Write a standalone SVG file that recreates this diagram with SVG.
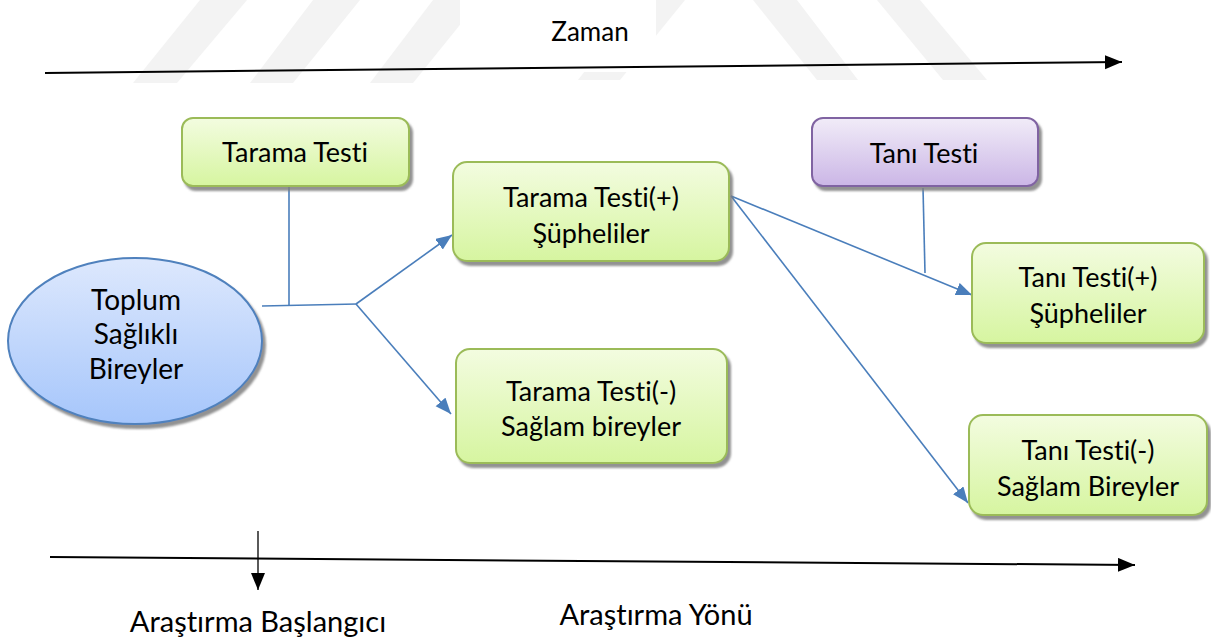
<svg xmlns="http://www.w3.org/2000/svg" width="1211" height="637" viewBox="0 0 1211 637">
  <defs>
    <linearGradient id="gGreen" x1="0" y1="0" x2="0" y2="1">
      <stop offset="0" stop-color="#f3fce0"/>
      <stop offset="1" stop-color="#d6f5a0"/>
    </linearGradient>
    <linearGradient id="gPurple" x1="0" y1="0" x2="0" y2="1">
      <stop offset="0" stop-color="#f1ecf8"/>
      <stop offset="1" stop-color="#cbb6e6"/>
    </linearGradient>
    <linearGradient id="gBlue" x1="0" y1="0" x2="0" y2="1">
      <stop offset="0" stop-color="#dde8fd"/>
      <stop offset="1" stop-color="#a6c6fb"/>
    </linearGradient>
    <filter id="shadow" x="-10%" y="-10%" width="130%" height="140%">
      <feDropShadow dx="3" dy="4" stdDeviation="1.2" flood-color="#7f7f7f" flood-opacity="0.85"/>
    </filter>
    <marker id="arrBlue" markerUnits="userSpaceOnUse" markerWidth="17" markerHeight="14" refX="16" refY="6.5" orient="auto">
      <path d="M0,0 L16,6.5 L0,13 Z" fill="#4a7ebb"/>
    </marker>
    <marker id="arrBlack" markerUnits="userSpaceOnUse" markerWidth="18" markerHeight="16" refX="17" refY="7" orient="auto">
      <path d="M0,0 L17,7 L0,14 Z" fill="#000"/>
    </marker>
  </defs>
  <style>
    .lbl { font-family: Lato, "Liberation Sans", sans-serif; font-size: 27px; fill: #000; text-anchor: middle; font-variant-ligatures: none; }
    .big { font-size: 28px; }
    .axis { font-size: 26px; }
    .axisb { font-size: 29px; }
    .green { fill: url(#gGreen); stroke: #9bbb59; stroke-width: 2; filter: url(#shadow); }
    .purple { fill: url(#gPurple); stroke: #8064a2; stroke-width: 2; filter: url(#shadow); }
    .link { fill: none; stroke: #4a7ebb; stroke-width: 1.6; }
    .axisline { fill: none; stroke: #000; stroke-width: 2; }
    .wm { fill: #f3f3f3; }
  </style>

  <rect width="1211" height="637" fill="#fff"/>

  <!-- faint background watermark bands -->
  <g id="watermark">
    <polygon class="wm" points="200,0 247,0 177,83 133,83"/>
    <polygon class="wm" points="313,0 360,0 293,83 250,83"/>
    <polygon class="wm" points="433,0 480,0 413,83 370,83"/>
    <polygon class="wm" points="640,0 685,0 620,80 578,80"/>
    <polygon class="wm" points="753,0 797,0 858,80 817,80"/>
    <polygon class="wm" points="877,0 920,0 987,80 943,80"/>
    <rect x="460" y="0" width="196" height="72" fill="#fff"/>
  </g>

  <!-- time axes -->
  <g id="axes">
    <line class="axisline" x1="45" y1="73" x2="1122" y2="62" marker-end="url(#arrBlack)"/>
    <text class="lbl axis" x="590" y="41">Zaman</text>
    <line class="axisline" x1="50" y1="557" x2="1135" y2="565" marker-end="url(#arrBlack)"/>
    <line fill="none" stroke="#000" stroke-width="1.3" x1="258" y1="531" x2="258" y2="590" marker-end="url(#arrBlack)"/>
    <text class="lbl axisb" x="258" y="632">Araştırma Başlangıcı</text>
    <text class="lbl axisb" x="656" y="625">Araştırma Yönü</text>
  </g>

  <!-- connectors -->
  <g id="connectors">
    <line class="link" x1="289" y1="187" x2="289" y2="306"/>
    <line class="link" x1="262" y1="306" x2="357" y2="304"/>
    <line class="link" x1="356" y1="304" x2="452" y2="235" marker-end="url(#arrBlue)"/>
    <line class="link" x1="356" y1="304" x2="451" y2="414" marker-end="url(#arrBlue)"/>
    <line class="link" x1="731" y1="196" x2="972" y2="295" marker-end="url(#arrBlue)"/>
    <line class="link" x1="731" y1="196" x2="968" y2="503" marker-end="url(#arrBlue)"/>
    <line class="link" x1="923" y1="188" x2="925" y2="273"/>
  </g>

  <!-- nodes -->
  <g id="node-toplum">
    <ellipse cx="135" cy="341" rx="127" ry="83" fill="url(#gBlue)" stroke="#4f81bd" stroke-width="2" filter="url(#shadow)"/>
    <text class="lbl big" x="136" y="310">Toplum</text>
    <text class="lbl big" x="136" y="344">Sağlıklı</text>
    <text class="lbl big" x="136" y="379">Bireyler</text>
  </g>

  <g id="node-tarama-testi">
    <rect class="green" x="182" y="118" width="227" height="68" rx="11"/>
    <text class="lbl" x="295" y="162">Tarama Testi</text>
  </g>

  <g id="node-tarama-pos">
    <rect class="green" x="453" y="162" width="276" height="99" rx="14"/>
    <text class="lbl" x="591" y="207">Tarama Testi(+)</text>
    <text class="lbl" x="591" y="243">Şüpheliler</text>
  </g>

  <g id="node-tarama-neg">
    <rect class="green" x="456" y="349" width="271" height="114" rx="14"/>
    <text class="lbl" x="591" y="401">Tarama Testi(-)</text>
    <text class="lbl" x="591" y="436">Sağlam bireyler</text>
  </g>

  <g id="node-tani-testi">
    <rect class="purple" x="812" y="118" width="226" height="68" rx="11"/>
    <text class="lbl" x="924" y="163">Tanı Testi</text>
  </g>

  <g id="node-tani-pos">
    <rect class="green" x="972" y="243" width="232" height="100" rx="14"/>
    <text class="lbl" x="1088" y="287">Tanı Testi(+)</text>
    <text class="lbl" x="1088" y="323">Şüpheliler</text>
  </g>

  <g id="node-tani-neg">
    <rect class="green" x="969" y="415" width="238" height="100" rx="14"/>
    <text class="lbl" x="1088" y="460">Tanı Testi(-)</text>
    <text class="lbl" x="1088" y="496">Sağlam Bireyler</text>
  </g>
</svg>
